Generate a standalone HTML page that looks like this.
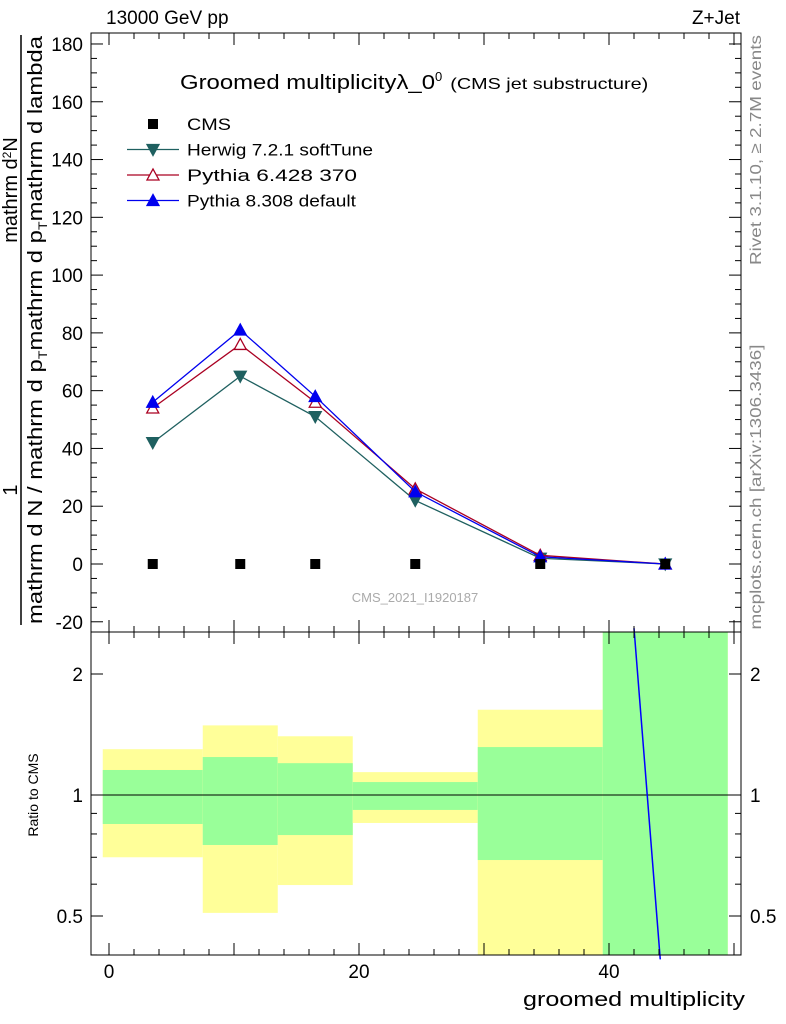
<!DOCTYPE html>
<html><head><meta charset="utf-8"><style>
body{margin:0;background:#fff}
svg{display:block;font-family:"Liberation Sans",sans-serif}
</style></head><body>
<svg id="c" width="786" height="1024" viewBox="0 0 786 1024">
<rect x="91" y="33" width="650" height="599" fill="#fff" stroke="#000"/>
<g id="bands"></g>
<g id="ticks"></g>
<g id="series"></g>
<rect x="91" y="632" width="650" height="323" fill="none" stroke="#000"/>
<text x="106" y="24" font-size="19">13000 GeV pp</text>
<text x="740" y="24" font-size="19" text-anchor="end">Z+Jet</text>
<text x="180" y="89" font-size="20"><tspan textLength="255" lengthAdjust="spacingAndGlyphs">Groomed multiplicityλ_0</tspan><tspan dy="-8" font-size="13">0</tspan><tspan dy="8" dx="8" font-size="16" textLength="198" lengthAdjust="spacingAndGlyphs">(CMS jet substructure)</tspan></text>
<text x="415" y="602" font-size="13" fill="#aaa" text-anchor="middle">CMS_2021_I1920187</text>
<text transform="translate(761,150) rotate(-90)" font-size="16" fill="#888" text-anchor="middle" textLength="230" lengthAdjust="spacingAndGlyphs">Rivet 3.1.10, ≥ 2.7M events</text>
<text transform="translate(761,487) rotate(-90)" font-size="16" fill="#888" text-anchor="middle" textLength="285" lengthAdjust="spacingAndGlyphs">mcplots.cern.ch [arXiv:1306.3436]</text>
<g>
<line x1="21" y1="35" x2="21" y2="625" stroke="#000" stroke-width="1.5"/>
<text transform="translate(17,190) rotate(-90)" font-size="20" text-anchor="middle">mathrm d<tspan dy="-6" font-size="12">2</tspan><tspan dy="6">N</tspan></text>
<text transform="translate(17,490) rotate(-90)" font-size="20" text-anchor="middle">1</text>
<text transform="translate(42,330) rotate(-90)" font-size="20" text-anchor="middle" textLength="588" lengthAdjust="spacingAndGlyphs">mathrm d N / mathrm d p<tspan dy="5" font-size="12">T</tspan><tspan dy="-5">mathrm d p</tspan><tspan dy="5" font-size="12">T</tspan><tspan dy="-5">mathrm d lambda</tspan></text>
</g>
<text transform="translate(38,795) rotate(-90)" font-size="14" text-anchor="middle">Ratio to CMS</text>
<text x="745" y="1006" font-size="20" text-anchor="end" textLength="222" lengthAdjust="spacingAndGlyphs">groomed multiplicity</text>
<g id="legend"></g>
</svg>
<script>
const binEdges=[-0.5,7.5,13.5,19.5,29.5,39.5,49.5];
const binCenters=[3.5,10.5,16.5,24.5,34.5,44.5];
const cmsVals=[0,0,0,0,0,0];
const herwigVals=[42,65,51,22,2,0];
const py6Vals=[54,76,56,26,3,0];
const py8Vals=[56,81,58,25,2.5,0];
const greenHi=[1.154,1.243,1.20,1.077,1.316,3];
const greenLo=[0.847,0.751,0.795,0.918,0.689,0.3];
const yellowHi=[1.30,1.49,1.40,1.14,1.63,3];
const yellowLo=[0.70,0.509,0.597,0.852,0.3,0.3];
const ratioLineX=[42.0,44.1];
const ratioLineY=[2.6,0.39];
const xTicks=[0,20,40];
const yTicks=[-20,0,20,40,60,80,100,120,140,160,180];
const rTicks=[0.5,1,2];

const NS="http://www.w3.org/2000/svg";
const X=v=>109+12.5*v;
const Y=v=>564-2.889*v;
const R=v=>795-121*Math.log2(v);
function el(t,a,p){const e=document.createElementNS(NS,t);for(const k in a)e.setAttribute(k,a[k]);document.getElementById(p).appendChild(e);return e;}
for(let i=0;i<6;i++){
 const x1=X(binEdges[i]),x2=X(binEdges[i+1]);
 const clip=v=>Math.max(632,Math.min(955,R(v)));
 let e=el('rect',{x:x1,y:clip(yellowHi[i]),width:x2-x1,height:clip(yellowLo[i])-clip(yellowHi[i]),fill:'#ffff99'},'bands');
 
 
 e=el('rect',{x:x1,y:clip(greenHi[i]),width:x2-x1,height:clip(greenLo[i])-clip(greenHi[i]),fill:'#99ff99'},'bands');
 
 
}
let ln=el('line',{x1:91,x2:741,y1:R(1),y2:R(1),stroke:'#000'},'bands');


ln=el('line',{x1:X(ratioLineX[0]),y1:R(ratioLineY[0]),x2:X(ratioLineX[1]),y2:R(ratioLineY[1]),stroke:'#00f',"stroke-width":1.5},'bands');


for(let v=-20;v<=180;v+=5){const big=v%20==0;const y=Y(v);if(y<33||y>632)continue;
 el('line',{x1:91,x2:91+(big?12:6),y1:y,y2:y,stroke:'#000'},'ticks');
 el('line',{x1:741,x2:741-(big?12:6),y1:y,y2:y,stroke:'#000'},'ticks');}
yTicks.forEach(v=>{const t=el('text',{x:83,y:Y(v)+7,'font-size':19,'text-anchor':'end'},'ticks');t.textContent=v;
 
 });
for(let v=0;v<=50;v+=2){const big=v%10==0;const x=X(v);
 el('line',{x1:x,x2:x,y1:632,y2:632-(big?12:6),stroke:'#000'},'ticks');
 el('line',{x1:x,x2:x,y1:33,y2:33+(big?12:6),stroke:'#000'},'ticks');
 el('line',{x1:x,x2:x,y1:955,y2:955-(big?12:6),stroke:'#000'},'ticks');
 el('line',{x1:x,x2:x,y1:632,y2:632+(big?12:6),stroke:'#000'},'ticks');}
xTicks.forEach(v=>{const t=el('text',{x:X(v),y:978,'font-size':19,'text-anchor':'middle'},'ticks');t.textContent=v;
 
 });
[0.4,0.5,0.6,0.7,0.8,0.9,1,2].forEach(v=>{const y=R(v);const big=rTicks.includes(v);
 el('line',{x1:91,x2:91+(big?12:6),y1:y,y2:y,stroke:'#000'},'ticks');
 el('line',{x1:741,x2:741-(big?12:6),y1:y,y2:y,stroke:'#000'},'ticks');});
rTicks.forEach(v=>{let t=el('text',{x:83,y:R(v)+7,'font-size':19,'text-anchor':'end'},'ticks');t.textContent=v;
 
 
 t=el('text',{x:750,y:R(v)+7,'font-size':19},'ticks');t.textContent=v;
 
 });
function tri(x,y,down,fill,stroke,p){const s=down?-1:1;
 return el('polygon',{points:`${x-6},${y+5*s} ${x+6},${y+5*s} ${x},${y-6*s}`,fill:fill,stroke:stroke,'stroke-width':1.3},p||'series');}
function series(vals,color,name,mk){
 const p=el('polyline',{points:binCenters.map((c,i)=>X(c)+','+Y(vals[i])).join(' '),fill:'none',stroke:color,'stroke-width':1.3},'series');
 
 
 vals.forEach((v,i)=>{const m=mk(X(binCenters[i]),Y(v));
  
  });
}
series(herwigVals,'#1f6060','herwig',(x,y)=>tri(x,y,true,'#1f6060','#1f6060'));
series(py6Vals,'#aa0022','pythia6',(x,y)=>tri(x,y,false,'#fff','#aa0022'));
series(py8Vals,'#0000ee','pythia8',(x,y)=>tri(x,y,false,'#0000ee','#0000ee'));
cmsVals.forEach((v,i)=>{const m=el('rect',{x:X(binCenters[i])-5,y:Y(v)-5,width:10,height:10,fill:'#000'},'series');
 
 });
const leg=[['CMS','#000','sq',44],['Herwig 7.2.1 softTune','#1f6060','down',186],['Pythia 6.428 370','#aa0022','open',170],['Pythia 8.308 default','#0000ee','up',169]];
leg.forEach((l,i)=>{const y=124+25.5*i;
 if(l[2]=='sq'){el('rect',{x:148,y:y-5,width:10,height:10,fill:'#000'},'legend');}
 else{el('line',{x1:127,x2:179,y1:y,y2:y,stroke:l[1],'stroke-width':1.3},'legend');
  tri(153,y,l[2]=='down',l[2]=='open'?'#fff':l[1],l[1],'legend');}
 const t=el('text',{x:187,y:y+6,'font-size':17,textLength:l[3],lengthAdjust:'spacingAndGlyphs'},'legend');t.textContent=l[0];
 
 });
</script>
</body></html>
